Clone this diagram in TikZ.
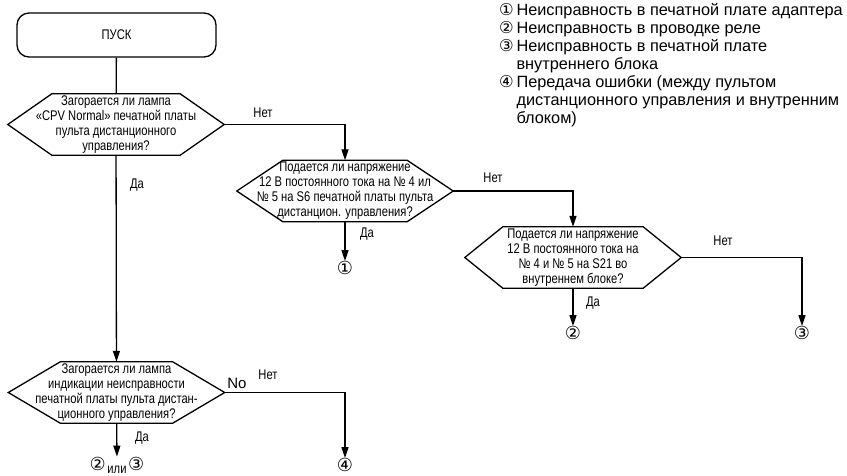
\documentclass[tikz,border=0pt]{standalone}
\usepackage{fontspec}
\setmainfont{Liberation Sans}
\newfontfamily\condfont[FakeStretch=0.8]{Liberation Sans}
\newfontfamily\symfont{DejaVu Sans}
\usetikzlibrary{positioning, arrows.meta}

\begin{document}
\begin{tikzpicture}[x=1pt, y=-1pt,
                startbox/.style={draw, line width=1.3pt, rounded corners=12pt,
                    minimum width=199pt, minimum height=44pt,
                    font=\condfont\fontsize{14}{15}\selectfont},
                query/.style={inner sep=0pt, minimum width=216pt,
                    minimum height=61pt, align=center,
                    font=\condfont\fontsize{14}{15}\selectfont},
                link/.style={line width=1.3pt},
                flow/.style={link, -{Triangle[length=11pt, width=7pt]}},
                answer/.style={font=\condfont\fontsize{14}{15}\selectfont},
                cnum/.style={font=\symfont\fontsize{18}{18}\selectfont, inner sep=0pt}
            ]
                \useasboundingbox (0,0) rectangle (847,475);

                \node[startbox] (start) at (116.5,35) {ПУСК};

                \node[query] (q1) at (116,124.5)
                    {Загорается ли лампа\\«CPV Normal» печатной платы\\
                     пульта дистанционного\\управления?};
                \node[query] (q2) at (345,191)
                    {Подается ли напряжение\\12 В постоянного тока на № 4 ил\\
                     № 5 на S6 печатной платы пульта\\дистанцион. управления?};
                \node[query] (q3) at (573,257.5)
                    {Подается ли напряжение\\12 В постоянного тока на\\
                     № 4 и № 5 на S21 во\\внутреннем блоке?};
                \node[query] (q4) at (116.5,392.5)
                    {Загорается ли лампа\\индикации неисправности\\
                     печатной платы пульта дистан-\\ционного управления?};

                % hexagon outlines round the questions
                \foreach \q/\d in {q1/44, q2/46, q3/38, q4/52}
                    \draw[link] (\q.west) -- ([xshift=\d]\q.north west)
                        -- ([xshift=-\d]\q.north east) -- (\q.east)
                        -- ([xshift=-\d]\q.south east)
                        -- ([xshift=\d]\q.south west) -- cycle;

                \node[cnum] (c1) at (345,268) {①};
                \node[cnum] (c2) at (573,333) {②};
                \node[cnum] (c3) at (802,333) {③};
                \node[cnum] (c4) at (345,465) {④};
                \node[inner sep=0pt] (c23) at (117,465)
                    {{\symfont\fontsize{18}{18}\selectfont ②}\,%
                     \raisebox{-3pt}{\condfont\fontsize{14}{15}\selectfont или}\,%
                     {\symfont\fontsize{18}{18}\selectfont ③}};

                \draw[link] (start) -- (q1);
                \draw[flow] (q1) -- (q4);
                \draw[flow] (q1.east) -| (q2.north);
                \draw[flow] (q2) -- (c1);
                \draw[flow] (q2.east) -| (q3.north);
                \draw[flow] (q3) -- (c2);
                \draw[flow] (q3.east) -| (c3);
                \draw[flow] (q4.east) -| (c4);
                \draw[flow] (q4) -- (c23);

                \node[answer] (a1) at (263,113) {Нет};
                \node[answer] (a2) at (137,185) {Да};
                \node[answer] (a3) at (367,234) {Да};
                \node[answer] (a4) at (493,178) {Нет};
                \node[answer] (a5) at (593,303) {Да};
                \node[answer] (a6) at (723,241) {Нет};
                \node[answer] (a7) at (268,375) {Нет};
                \node[answer] (a8) at (142,438) {Да};
                \node[font=\fontsize{15}{15}\selectfont] (no) at (237,383) {No};

                \node[anchor=north west, inner sep=0pt,
                      font=\fontsize{16.3}{18}\selectfont] (legend) at (499,3)
                    {\begin{tabular}{@{}l@{\,}l@{}}
                     {\symfont ①} & Неисправность в печатной плате адаптера\\
                     {\symfont ②} & Неисправность в проводке реле\\
                     {\symfont ③} & Неисправность в печатной плате\\
                                  & внутреннего блока\\
                     {\symfont ④} & Передача ошибки (между пультом\\
                                  & дистанционного управления и внутренним\\
                                  & блоком)
                     \end{tabular}};

            \end{tikzpicture}
\end{document}
